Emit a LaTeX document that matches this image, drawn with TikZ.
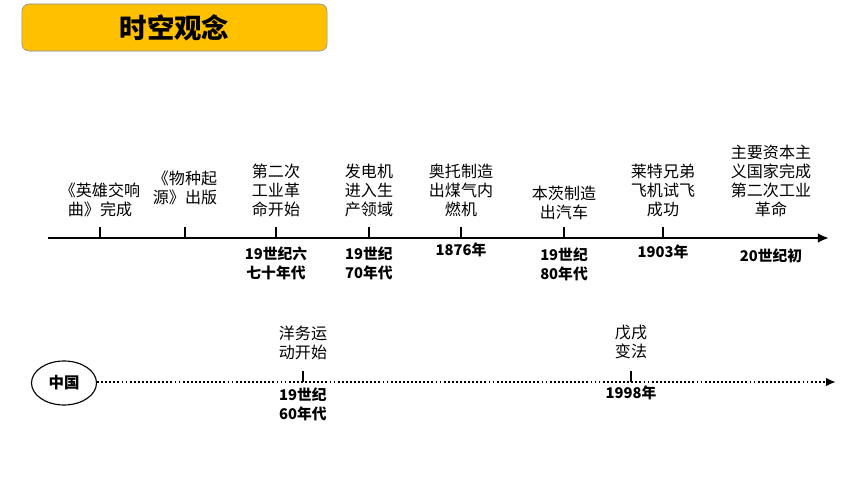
\documentclass[tikz,border=0pt]{standalone}
\usepackage{fontspec}
\newfontfamily\cjk{Noto Sans CJK SC}
\usetikzlibrary{arrows.meta,shapes.geometric}
\definecolor{titlefill}{HTML}{FFC000}
\definecolor{titleedge}{HTML}{7F8FA9}

\begin{document}
\begin{tikzpicture}[x=0.025cm, y=-0.025cm,
    event/.style={align=center, inner sep=0pt, font=\cjk\fontsize{11.4}{13.5}\selectfont},
    date/.style={align=center, inner sep=0pt, font=\cjk\bfseries\fontsize{10.5}{13.5}\selectfont},
    tick/.style={line width=2pt}]
    \useasboundingbox (0,0) rectangle (860,484);
    % Tytuł
    \node (title) [draw=titleedge, fill=titlefill, rounded corners=5pt,
        minimum width=7.625cm, minimum height=1.175cm,
        font=\cjk\bfseries\fontsize{19.5}{22}\selectfont] at (174.5,27.5) {时空观念};
    % Oś górna
    \coordinate (top0) at (48,238);
    \coordinate (top1) at (829,238);
    \draw[line width=1.8pt, -{Latex[length=8pt,width=7pt]}] (top0) -- (top1);
    \foreach \x/\n in {100/1,185/2,276/3,369/4,461/5,564/6,663/7} {
        \coordinate (t\n) at (\x,238);
        \draw[tick] (t\n) -- ++(0,-11);
    }
    % Wydarzenia
    \node[event] (e1) at (100,199.5) {《英雄交响\\曲》完成};
    \node[event] (e2) at (185,187.5) {《物种起\\源》出版};
    \node[event] (e3) at (276,190.5) {第二次\\工业革\\命开始};
    \node[event] (e4) at (369,190.5) {发电机\\进入生\\产领域};
    \node[event] (e5) at (461,190) {奥托制造\\出煤气内\\燃机};
    \node[event] (e6) at (564,202.5) {本茨制造\\出汽车};
    \node[event] (e7) at (663,190) {莱特兄弟\\飞机试飞\\成功};
    \node[event] (e8) at (771,181) {主要资本主\\义国家完成\\第二次工业\\革命};
    % Daty
    \node[date] (d3) at (276,263) {19世纪六\\七十年代};
    \node[date] (d4) at (369,263) {19世纪\\70年代};
    \node[date] (d5) at (461,250) {1876年};
    \node[date] (d6) at (564,264) {19世纪\\80年代};
    \node[date] (d7) at (663,252) {1903年};
    \node[date] (d8) at (771,256) {20世纪初};
    % Oś dolna (Chiny)
    \node (china) [draw, ellipse, thick, minimum width=1.625cm, minimum height=1.1cm,
        font=\cjk\bfseries\fontsize{11}{13}\selectfont] at (64,383) {中国};
    \coordinate (bot1) at (836,382);
    \draw[line width=1.8pt, dash pattern=on 1.3pt off 1.6pt, -{Latex[length=7pt,width=6pt]}]
        (china.east |- 0,382) -- (bot1);
    \foreach \x/\n in {303/1,631/2} {
        \coordinate (c\n) at (\x,382);
        \draw[line width=1.6pt] (c\n) -- ++(0,-11);
    }
    \node[event] (f1) at (303,343) {洋务运\\动开始};
    \node[event] (f2) at (631,342) {戊戌\\变法};
    \node[date] (g1) at (303,404) {19世纪\\60年代};
    \node[date] (g2) at (631,393) {1998年};
\end{tikzpicture}
\end{document}
